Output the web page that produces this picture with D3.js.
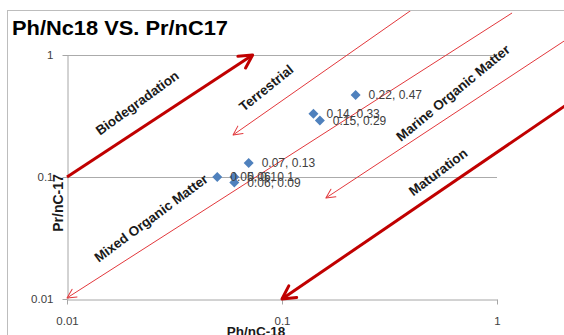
<!DOCTYPE html>
<html>
<head>
<meta charset="utf-8">
<script src="https://cdn.jsdelivr.net/npm/d3@7"></script>
<style>
  html, body { margin: 0; padding: 0; background: #fff; }
  svg { display: block; font-family: "Liberation Sans", Arial, sans-serif; }
</style>
</head>
<body>
<svg id="chart" width="564" height="335"></svg>
<script>
// Sample ratios: Ph/nC-18 (x) against Pr/nC-17 (y)
const ratioPh = [0.22, 0.14, 0.15, 0.07, 0.05, 0.06, 0.06];
const ratioPr = [0.47, 0.33, 0.29, 0.13, 0.1, 0.1, 0.09];

// Log axis ticks
const tickValues = [0.01, 0.1, 1];
const tickLabels = ["0.01", "0.1", "1"];

// Interpretation guides (tail -> arrow tip, in ratio units)
const guideFromPh = [0.01, 0.406, 1.175, 2.09, 2.19];
const guideFromPr = [0.1, 2.38, 2.21, 1.33, 0.41];
const guideToPh   = [0.073, 0.0592, 0.01, 0.160, 0.1];
const guideToPr   = [1.0, 0.221, 0.0102, 0.0673, 0.01];
const guideHeavy  = [true, false, false, false, true];

// Zone names and where they sit (ratio units)
const zoneNames = ["Biodegradation", "Terrestrial", "Mixed Organic Matter", "Marine Organic Matter", "Maturation"];
const zonePh    = [0.0212, 0.0844, 0.0246, 0.624, 0.532];
const zonePr    = [0.405, 0.537, 0.0461, 0.489, 0.110];
const zoneAngle = [-36, -39, -36.5, -39.5, -37];

const svg = d3.select("#chart");

const x = d3.scaleLog().domain([0.01, 1]).range([67, 497]);
const y = d3.scaleLog().domain([0.01, 1]).range([299, 55]);

// Chart frame
svg.append("rect")
  .attr("x", 7.5).attr("y", 10.5)
  .attr("width", 620).attr("height", 400)
  .attr("fill", "#fff").attr("stroke", "#bdbdbd").attr("stroke-width", 1);

svg.append("defs").append("clipPath").attr("id", "frameClip")
  .append("rect").attr("x", 8).attr("y", 11).attr("width", 620).attr("height", 400);

// Title
svg.append("text")
  .attr("x", 12).attr("y", 35)
  .attr("font-size", 20).attr("font-weight", "bold").attr("fill", "#000")
  .attr("textLength", 216).attr("lengthAdjust", "spacingAndGlyphs")
  .text("Ph/Nc18 VS. Pr/nC17");

// Horizontal gridlines
svg.append("g").selectAll("line")
  .data(tickValues.filter(v => v > 0.01))
  .join("line")
  .attr("x1", x(0.01)).attr("x2", x(1))
  .attr("y1", d => Math.round(y(d)) + 0.5).attr("y2", d => Math.round(y(d)) + 0.5)
  .attr("stroke", "#ababab").attr("stroke-width", 1);

// Axes
const xAxis = d3.axisBottom(x)
  .tickValues(tickValues)
  .tickFormat((d, i) => tickLabels[i])
  .tickSize(5).tickSizeOuter(0).tickPadding(12);
const yAxis = d3.axisLeft(y)
  .tickValues(tickValues)
  .tickFormat((d, i) => tickLabels[i])
  .tickSize(5).tickSizeOuter(0).tickPadding(9);

const gx = svg.append("g").attr("transform", "translate(0,299.5)").call(xAxis);
const gy = svg.append("g").attr("transform", "translate(67.5,0)").call(yAxis);
[gx, gy].forEach(g => {
  g.select(".domain").attr("stroke", "#a6a6a6");
  g.selectAll(".tick line").attr("stroke", "#a6a6a6");
  g.selectAll(".tick text").attr("fill", "#404040").attr("font-size", 11.5)
    .attr("font-family", "'Liberation Sans', Arial, sans-serif");
});

// Axis titles
svg.append("text")
  .attr("x", 256).attr("y", 336)
  .attr("text-anchor", "middle")
  .attr("font-size", 13.5).attr("font-weight", "bold").attr("fill", "#1a1a1a")
  .text("Ph/nC-18");
svg.append("text")
  .attr("transform", "translate(63,203) rotate(-90)")
  .attr("text-anchor", "middle")
  .attr("font-size", 14).attr("font-weight", "bold").attr("fill", "#1a1a1a")
  .text("Pr/nC-17");

// Arrow heads
const defs = svg.select("defs");
[["thinHead", 9, 4.5, "#e2383c", 1], ["heavyHead", 13, 7, "#c00000", 3]].forEach(([id, len, half, col, w]) => {
  defs.append("marker")
    .attr("id", id)
    .attr("markerUnits", "userSpaceOnUse")
    .attr("viewBox", `${-len - 2} ${-half - 2} ${len + 4} ${2 * half + 4}`)
    .attr("refX", 0).attr("refY", 0)
    .attr("markerWidth", len + 4).attr("markerHeight", 2 * half + 4)
    .attr("orient", "auto")
    .append("path")
    .attr("d", `M${-len},${-half}L0,0L${-len},${half}`)
    .attr("fill", "none").attr("stroke", col).attr("stroke-width", w)
    .attr("stroke-linecap", "round").attr("stroke-linejoin", "round");
});

// Guide arrows
svg.append("g").attr("clip-path", "url(#frameClip)")
  .selectAll("line")
  .data(d3.range(guideFromPh.length))
  .join("line")
  .attr("x1", i => x(guideFromPh[i])).attr("y1", i => y(guideFromPr[i]))
  .attr("x2", i => x(guideToPh[i])).attr("y2", i => y(guideToPr[i]))
  .attr("stroke", i => guideHeavy[i] ? "#c00000" : "#e2383c")
  .attr("stroke-width", i => guideHeavy[i] ? 3 : 1)
  .attr("marker-end", i => guideHeavy[i] ? "url(#heavyHead)" : "url(#thinHead)");

// Zone names
svg.append("g").selectAll("text")
  .data(d3.range(zoneNames.length))
  .join("text")
  .attr("transform", i => `translate(${x(zonePh[i])},${y(zonePr[i])}) rotate(${zoneAngle[i]})`)
  .attr("text-anchor", "middle")
  .attr("dy", "0.35em")
  .attr("font-size", 13.5).attr("font-weight", "bold").attr("fill", "#1a1a1a")
  .text(i => zoneNames[i]);

// Samples
const idx = d3.range(ratioPh.length);
svg.append("g").selectAll("path")
  .data(idx)
  .join("path")
  .attr("d", d3.symbol(d3.symbolSquare, 50))
  .attr("transform", i => `translate(${x(ratioPh[i])},${y(ratioPr[i])}) rotate(45)`)
  .attr("fill", "#4f81bd");

svg.append("g").selectAll("text")
  .data(idx)
  .join("text")
  .attr("x", i => x(ratioPh[i]) + 13)
  .attr("y", i => y(ratioPr[i]))
  .attr("dy", "0.35em")
  .attr("font-size", 12).attr("fill", "#404040")
  .text(i => `${ratioPh[i]}, ${ratioPr[i]}`);
</script>
</body>
</html>
